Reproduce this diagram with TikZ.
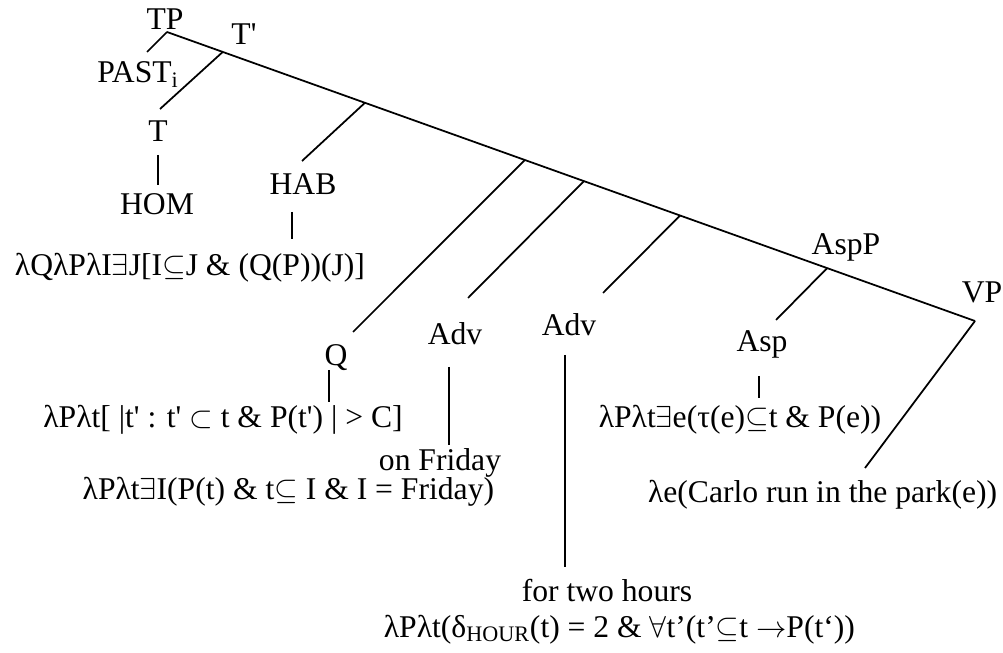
\documentclass[tikz,border=0pt]{standalone}
\usepackage{fontspec}
\setmainfont{Liberation Serif}
\usepackage{tikz}
\usetikzlibrary{calc,positioning}

\begin{document}
\begin{tikzpicture}[line width=1pt,
  lbl/.style={anchor=base, inner sep=0pt, font=\fontsize{18}{22}\selectfont},
  sem/.style={anchor=base, inner sep=0pt, font=\fontsize{18}{22}\selectfont},
  bar/.style={line width=1pt}]

\useasboundingbox (0,0) rectangle (20.06,-13.06);

% spina principale TP -- VP
\coordinate (tp) at (3.34,-0.64);
\coordinate (vp) at (19.50,-6.42);
\coordinate (tbar) at ($(tp)!0.069!(vp)$);
\coordinate (jhab) at ($(tp)!0.245!(vp)$);
\coordinate (jq)   at ($(tp)!0.443!(vp)$);
\coordinate (jadvA) at ($(tp)!0.516!(vp)$);
\coordinate (jadvB) at ($(tp)!0.635!(vp)$);
\coordinate (jasp) at ($(tp)!0.817!(vp)$);

% etichette
\node[lbl] (TP)   at (3.30,-0.60) {TP};
\node[lbl] (Tb)   at (4.88,-0.90) {T\textquotesingle};
\node[lbl] (past) at (2.76,-1.66) {PAST\textsubscript{i}};
\node[lbl] (T)    at (3.16,-2.84) {T};
\node[lbl] (hom)  at (3.14,-4.30) {HOM};
\node[lbl] (hab)  at (6.06,-3.90) {HAB};
\node[lbl] (Q)    at (6.72,-7.32) {Q};
\node[lbl] (advA) at (9.10,-6.90) {Adv};
\node[lbl] (advB) at (11.38,-6.72) {Adv};
\node[lbl] (aspP) at (16.92,-5.10) {AspP};
\node[lbl] (asp)  at (15.24,-7.04) {Asp};
\node[lbl] (VP)   at (19.64,-6.06) {VP};
\node[lbl] (fri)  at (8.80,-9.42) {on Friday};
\node[lbl] (twoh) at (12.14,-12.02) {for two hours};

% formule
\node[sem] (habsem) at (3.80,-5.52) {λQλPλI$\exists$J[I$\subseteq$J \& (Q(P))(J)]};
\node[sem] (qsem)   at (4.46,-8.56) {λPλt[ |t\textquotesingle{} : t\textquotesingle{} $\subset$ t \& P(t\textquotesingle) | > C]};
\node[sem, anchor=base east] (frisem) at (9.90,-10.00) {λPλt$\exists$I(P(t) \& t$\subseteq$ I \& I = Friday)};
\node[sem, anchor=base west] (hsem)   at (7.66,-12.74) {λPλt(δ\textsubscript{HOUR}(t) = 2 \& $\forall$t’(t’$\subseteq$t $\rightarrow$P(t‘))};
\node[sem] (aspsem) at (14.80,-8.56) {λPλt$\exists$e(τ(e)$\subseteq$t \& P(e))};
\node[sem, anchor=base east] (vpsem)  at (19.96,-10.06) {λe(Carlo run in the park(e))};

% estremi liberi dei rami
\coordinate (pastEnd) at (2.94,-1.04);
\coordinate (tEnd)    at (3.20,-2.18);
\coordinate (habEnd)  at (6.04,-3.22);
\coordinate (qEnd)    at (7.06,-6.64);
\coordinate (advAEnd) at (9.36,-5.96);
\coordinate (advBEnd) at (12.06,-5.86);
\coordinate (aspEnd)  at (15.52,-6.40);
\coordinate (vpEnd)   at (17.30,-9.36);

\draw (tp) -- (vp);
\draw (tp) -- (pastEnd);
\draw (tbar) -- (tEnd);
\draw (jhab) -- (habEnd);
\draw (jq) -- (qEnd);
\draw (jadvA) -- (advAEnd);
\draw (jadvB) -- (advBEnd);
\draw (jasp) -- (aspEnd);
\draw (vp) -- (vpEnd);

% barre verticali
\draw[bar] ($(T.base)+(0,-0.26)$) -- ++(0,-0.60);
\draw[bar] ($(hab.base)+(-0.22,-0.34)$) -- ++(0,-0.54);
\draw[bar] ($(Q.base)+(-0.14,-0.08)$) -- ++(0,-0.64);
\draw[bar] ($(advA.base)+(-0.12,-0.44)$) -- ++(0,-1.56);
\draw[bar] ($(advB.base)+(-0.08,-0.38)$) -- ++(0,-4.24);
\draw[bar] ($(asp.base)+(-0.06,-0.48)$) -- ++(0,-0.44);

\end{tikzpicture}
\end{document}
